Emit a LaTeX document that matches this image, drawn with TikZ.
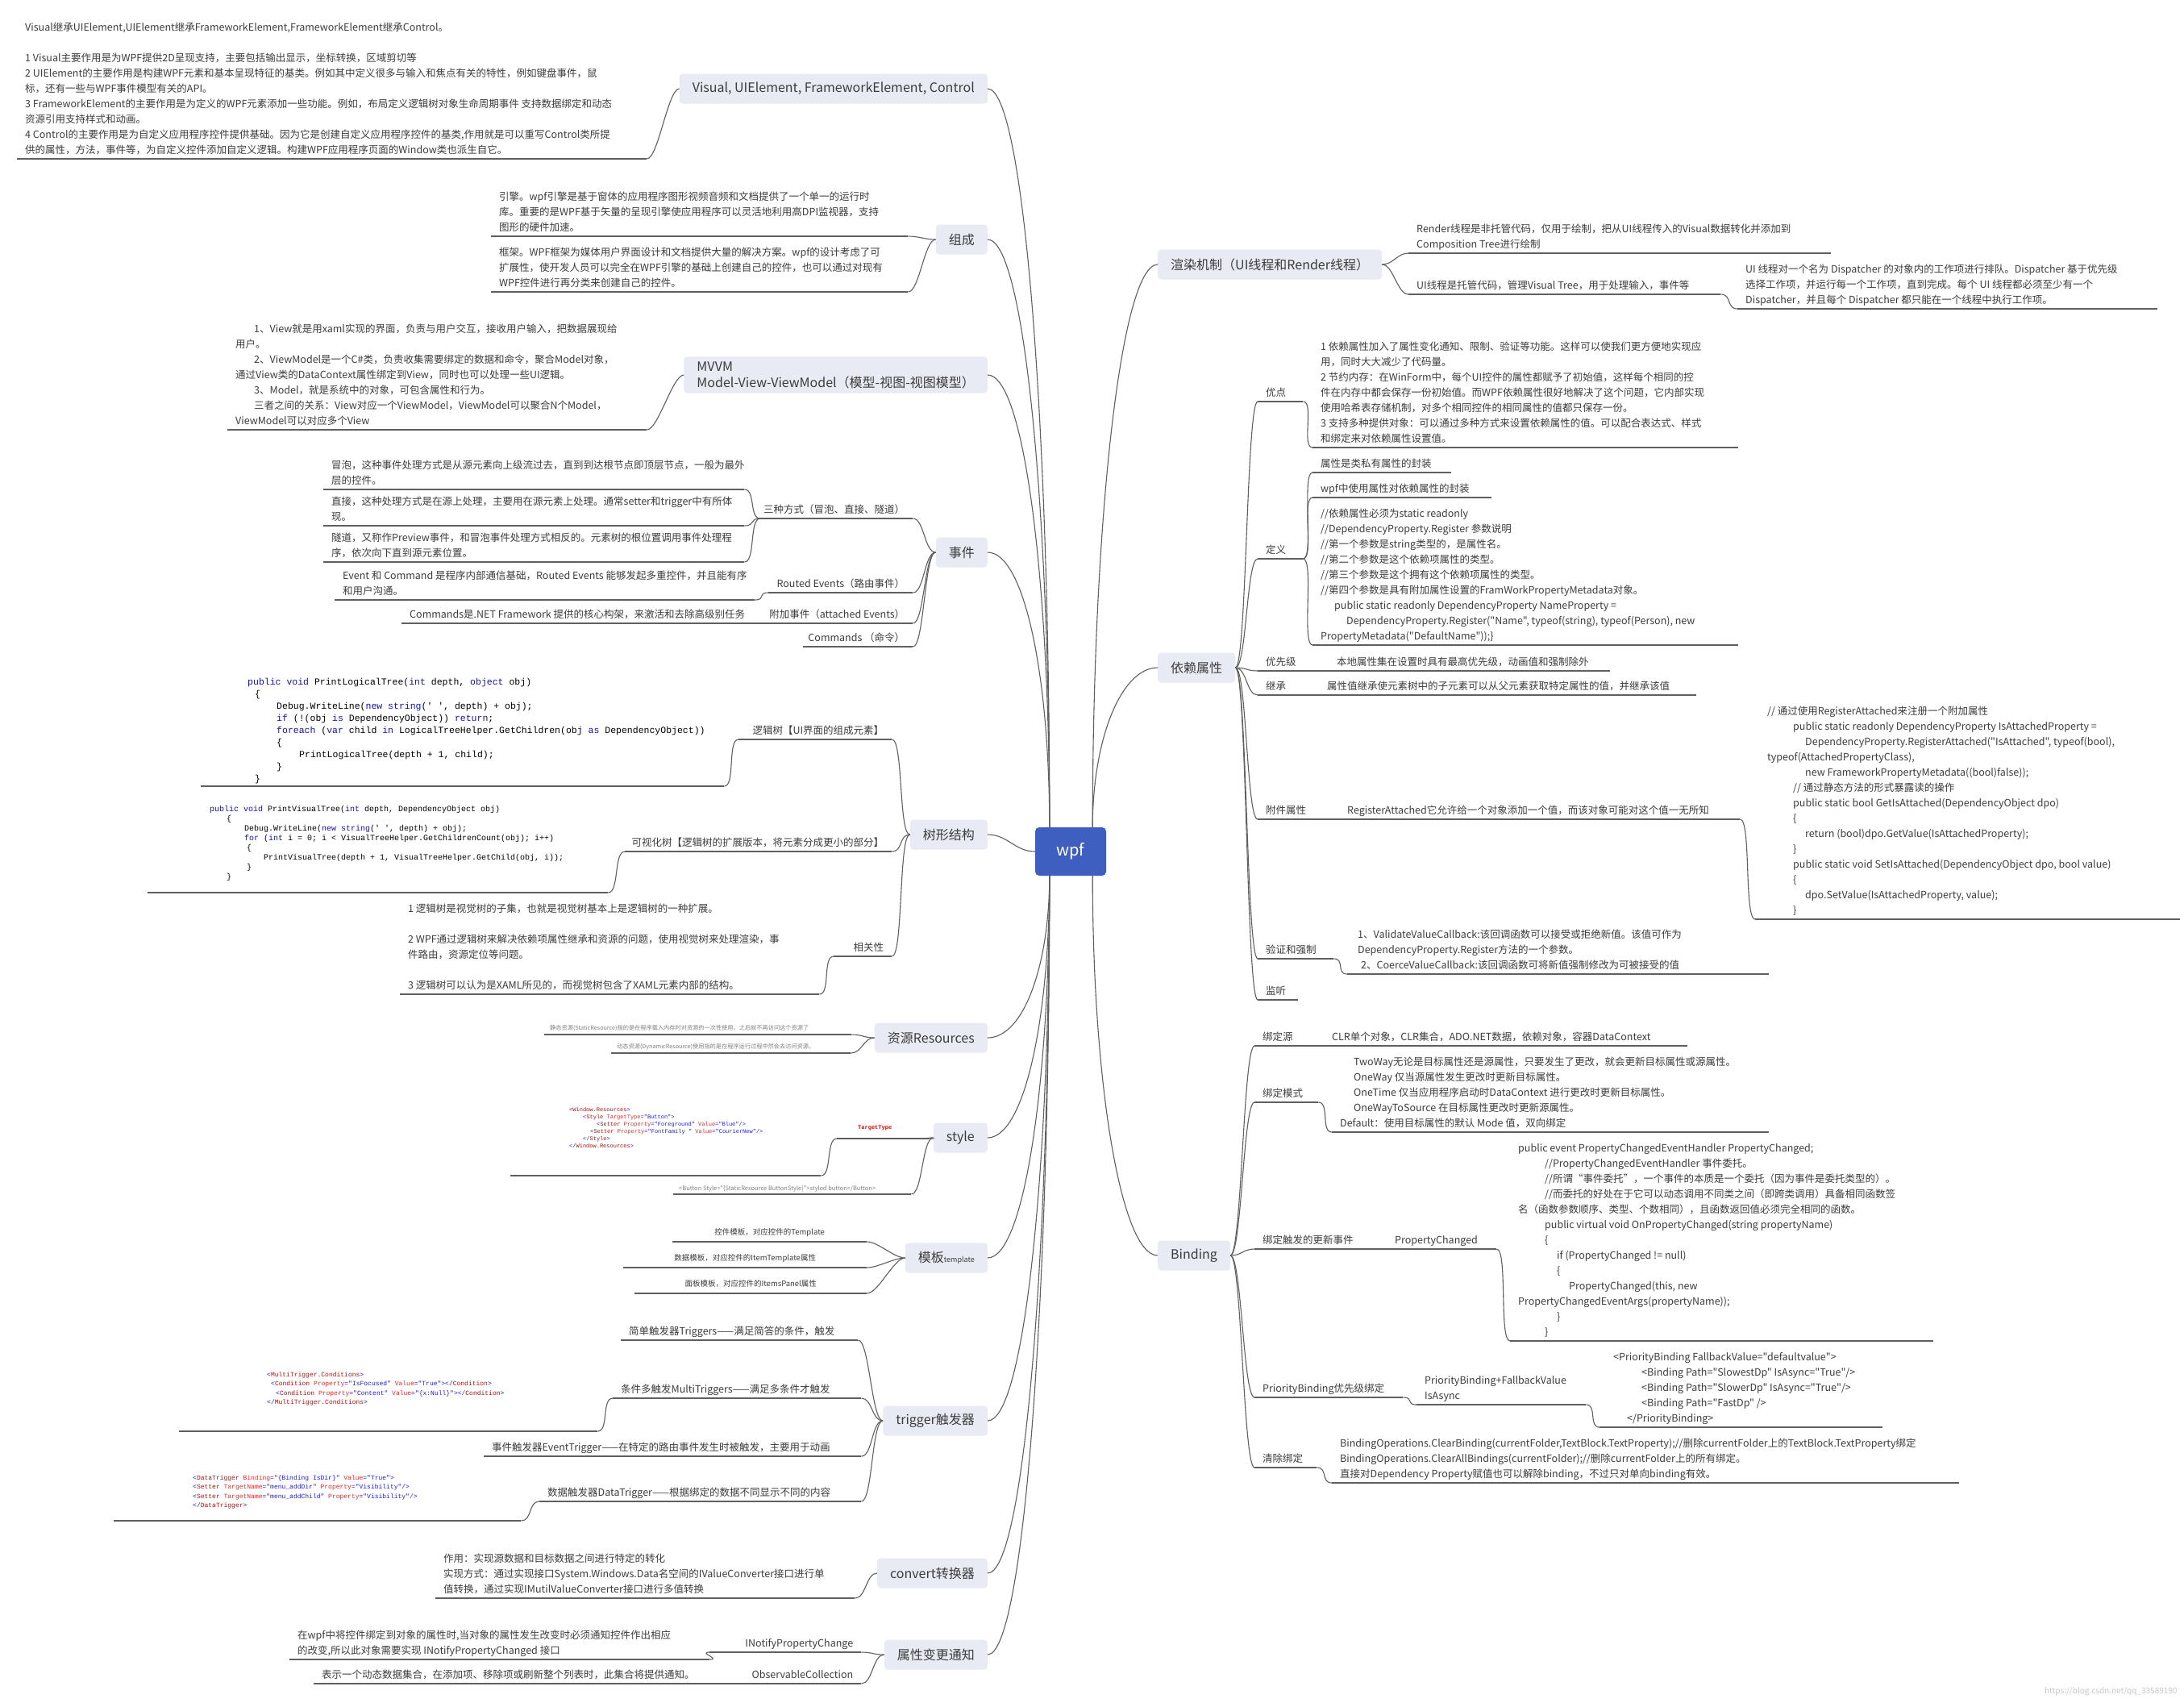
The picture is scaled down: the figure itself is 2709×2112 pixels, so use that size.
\documentclass[tikz,border=0pt]{standalone}
\usepackage{fontspec}
\setmainfont{Noto Sans CJK SC}[Ligatures=TeXOff]
\setmonofont{Liberation Mono}
\usepackage{tikz}

\definecolor{boxfill}{RGB}{233,235,244}
\definecolor{rootfill}{RGB}{62,94,192}
\definecolor{linecol}{RGB}{95,95,95}
\definecolor{txtcol}{RGB}{60,60,60}
\definecolor{kwcol}{RGB}{20,20,170}
\definecolor{tagcol}{RGB}{163,21,21}
\definecolor{attcol}{RGB}{225,40,40}
\definecolor{valcol}{RGB}{30,30,220}

\newcommand{\fs}{\fontsize{12.5}{19}\selectfont}
\newcommand{\lft}[2]{\makebox[#1pt][l]{\begin{tabular}{@{}l@{}}#2\end{tabular}}}
\newcommand{\rgt}[2]{\makebox[#1pt][r]{\begin{tabular}{@{}r@{}}#2\end{tabular}}}
\newcommand{\ctr}[2]{\makebox[#1pt][c]{\begin{tabular}{@{}c@{}}#2\end{tabular}}}
\newcommand{\ind}[1]{\hspace*{#1pt}}
\newcommand{\kw}[1]{\textcolor{kwcol}{#1}}
\newcommand{\xtag}[1]{\textcolor{tagcol}{#1}}
\newcommand{\xatt}[1]{\textcolor{attcol}{#1}}
\newcommand{\xval}[1]{\textcolor{valcol}{#1}}

\begin{document}
\begin{tikzpicture}[x=1pt, y=-1pt,
    lk/.style={draw=linecol, line width=1.1pt},
    lkl/.style={lk, to path={.. controls +(-14,0) and +(14,0) .. (\tikztotarget)}},
    lkr/.style={lk, to path={.. controls +(14,0) and +(-14,0) .. (\tikztotarget)}},
    rootbox/.style={rectangle, rounded corners=5pt, fill=rootfill, text=white, minimum width=88pt, minimum height=60pt, font=\fontsize{20}{24}\selectfont},
    topic/.style={rectangle, rounded corners=4pt, fill=boxfill, inner xsep=16pt, inner ysep=6pt, minimum height=37pt, text=txtcol, font=\fontsize{16}{20}\selectfont},
    topicl/.style={topic, anchor=east},
    topicr/.style={topic, anchor=west},
    leaf/.style={anchor=south west, inner xsep=10pt, inner ysep=1pt, text=txtcol, font=\fs,
      append after command={(\tikzlastnode.south west) edge[lk] (\tikzlastnode.south east)}},
    tiny/.style={leaf, inner xsep=7pt, inner ysep=3pt, text=gray, font=\fontsize{7.2}{9}\selectfont},
    code/.style={leaf, text=black}]

  \fill[white] (0,0) rectangle (2709,2112);
  \useasboundingbox (0,0) rectangle (2709,2112);

  % 中心
  \node[rootbox] (wpf) at (1328,1056) {wpf};
  \coordinate (wTL) at ([xshift=18pt]wpf.north west);
  \coordinate (wBL) at ([xshift=18pt]wpf.south west);
  \coordinate (wTR) at ([xshift=-17pt]wpf.north east);
  \coordinate (wBR) at ([xshift=-17pt]wpf.south east);

  % 左侧主题
  \node[topicl] (vis) at (1225,110) {Visual, UIElement, FrameworkElement, Control};
  \node[topicl] (zc) at (1225,297) {组成};
  \node[topicl, align=left] (mvvm) at (1225,465) {MVVM\\Model-View-ViewModel（模型-视图-视图模型）};
  \node[topicl] (sj) at (1225,685) {事件};
  \node[topicl] (shu) at (1225,1035) {树形结构};
  \node[topicl] (zy) at (1225,1287) {资源Resources};
  \node[topicl] (st) at (1225,1411) {style};
  \node[topicl] (mb) at (1225,1560) {模板{\fontsize{9}{9}\selectfont template}};
  \node[topicl] (tg) at (1225,1762) {trigger触发器};
  \node[topicl] (cv) at (1225,1951) {convert转换器};
  \node[topicl] (tz) at (1225,2052) {属性变更通知};

  % 右侧主题
  \node[topicr] (xr) at (1436,328) {渲染机制（UI线程和Render线程）};
  \node[topicr] (yl) at (1436,828) {依赖属性};
  \node[topicr] (bd) at (1436,1557) {Binding};

  % Visual / 组成 / MVVM
  \node[leaf] (vis1) at (21,197) {\lft{761}{Visual继承UIElement,UIElement继承FrameworkElement,FrameworkElement继承Control。\\ \\
    1 Visual主要作用是为WPF提供2D呈现支持，主要包括输出显示，坐标转换，区域剪切等\\
    2 UIElement的主要作用是构建WPF元素和基本呈现特征的基类。例如其中定义很多与输入和焦点有关的特性，例如键盘事件，鼠\\
    标，还有一些与WPF事件模型有关的API。\\
    3 FrameworkElement的主要作用是为定义的WPF元素添加一些功能。例如，布局定义逻辑树对象生命周期事件 支持数据绑定和动态\\
    资源引用支持样式和动画。\\
    4 Control的主要作用是为自定义应用程序控件提供基础。因为它是创建自定义应用程序控件的基类,作用就是可以重写Control类所提\\
    供的属性，方法，事件等，为自定义控件添加自定义逻辑。构建WPF应用程序页面的Window类也派生自它。}};
  \node[leaf] (zc1) at (609,293) {\lft{497}{引擎。wpf引擎是基于窗体的应用程序图形视频音频和文档提供了一个单一的运行时\\
    库。重要的是WPF基于矢量的呈现引擎使应用程序可以灵活地利用高DPI监视器，支持\\
    图形的硬件加速。}};
  \node[leaf] (zc2) at (609,362) {\lft{497}{框架。WPF框架为媒体用户界面设计和文档提供大量的解决方案。wpf的设计考虑了可\\
    扩展性，使开发人员可以完全在WPF引擎的基础上创建自己的控件，也可以通过对现有\\
    WPF控件进行再分类来创建自己的控件。}};
  \node[leaf] (mv1) at (282,533) {\lft{500}{\ind{23}1、View就是用xaml实现的界面，负责与用户交互，接收用户输入，把数据展现给\\
    用户。\\
    \ind{23}2、ViewModel是一个C\#类，负责收集需要绑定的数据和命令，聚合Model对象，\\
    通过View类的DataContext属性绑定到View，同时也可以处理一些UI逻辑。\\
    \ind{23}3、Model，就是系统中的对象，可包含属性和行为。\\
    \ind{23}三者之间的关系：View对应一个ViewModel，ViewModel可以聚合N个Model，\\
    ViewModel可以对应多个View}};

  % 事件
  \node[leaf] (sj1) at (943,643) {\rgt{169}{三种方式（冒泡、直接、隧道）}};
  \node[leaf] (sj1a) at (401,607) {\lft{502}{冒泡，这种事件处理方式是从源元素向上级流过去，直到到达根节点即顶层节点，一般为最外\\层的控件。}};
  \node[leaf] (sj1b) at (401,652) {\lft{502}{直接，这种处理方式是在源上处理，主要用在源元素上处理。通常setter和trigger中有所体\\现。}};
  \node[leaf] (sj1c) at (401,697) {\lft{502}{隧道，又称作Preview事件，和冒泡事件处理方式相反的。元素树的根位置调用事件处理程\\序，依次向下直到源元素位置。}};
  \node[leaf] (sj2) at (953,735) {\rgt{159}{Routed Events（路由事件）}};
  \node[leaf] (sj2a) at (415,744) {\lft{501}{Event 和 Command 是程序内部通信基础，Routed Events 能够发起多重控件，并且能有序\\和用户沟通。}};
  \node[leaf] (sj3) at (950,773) {\rgt{162}{附加事件（attached Events）}};
  \node[leaf] (sj3a) at (498,773) {\lft{432}{Commands是.NET Framework 提供的核心构架，来激活和去除高级别任务}};
  \node[leaf] (sj4) at (996,802) {\rgt{116}{Commands （命令）}};

  % 树形结构
  \node[leaf] (shu1) at (916,917) {\rgt{170}{逻辑树【UI界面的组成元素】}};
  \node[code, font=\fontsize{11.5}{15}\selectfont\ttfamily] (shu1a) at (249,975) {\lft{629}{\ind{48}\kw{public void} PrintLogicalTree(\kw{int} depth, \kw{object} obj)\\
    \ind{57}\{\\
    \ind{84}Debug.WriteLine(\kw{new string}(' ', depth) + obj);\\
    \ind{84}\kw{if} (!(obj \kw{is} DependencyObject)) \kw{return};\\
    \ind{84}\kw{foreach} (\kw{var} child \kw{in} LogicalTreeHelper.GetChildren(obj \kw{as} DependencyObject))\\
    \ind{84}\{\\
    \ind{112}PrintLogicalTree(depth + 1, child);\\
    \ind{84}\}\\
    \ind{57}\}}};
  \node[leaf] (shu2) at (775,1056) {\rgt{311}{可视化树【逻辑树的扩展版本，将元素分成更小的部分】}};
  \node[code, inner ysep=13pt, font=\fontsize{10}{12}\selectfont\ttfamily] (shu2a) at (183,1107) {\lft{551}{\ind{67}\kw{public void} PrintVisualTree(\kw{int} depth, DependencyObject obj)\\
    \ind{88}\{\\
    \ind{110}Debug.WriteLine(\kw{new string}(' ', depth) + obj);\\
    \ind{110}\kw{for} (\kw{int} i = 0; i < VisualTreeHelper.GetChildrenCount(obj); i++)\\
    \ind{113}\{\\
    \ind{134}PrintVisualTree(depth + 1, VisualTreeHelper.GetChild(obj, i));\\
    \ind{113}\}\\
    \ind{88}\}}};
  \node[leaf] (shu3) at (1034,1186) {\rgt{52}{相关性}};
  \node[leaf] (shu3a) at (496,1233) {\lft{500}{1 逻辑树是视觉树的子集，也就是视觉树基本上是逻辑树的一种扩展。\\ \\
    2 WPF通过逻辑树来解决依赖项属性继承和资源的问题，使用视觉树来处理渲染，事\\
    件路由，资源定位等问题。\\ \\
    3 逻辑树可以认为是XAML所见的，而视觉树包含了XAML元素内部的结构。}};

  % 资源 / style / 模板
  \node[tiny] (zy1) at (675,1283) {\lft{367}{静态资源(StaticResource)指的是在程序载入内存时对资源的一次性使用，之后就不再访问这个资源了}};
  \node[tiny] (zy2) at (758,1306) {\lft{283}{动态资源(DynamicResource)使用指的是在程序运行过程中然会去访问资源。}};
  \node[leaf, inner ysep=9pt, text=red!85!black, font=\fontsize{7}{9}\selectfont\ttfamily\bfseries] (st1) at (1038,1412) {\lft{94}{\ind{16}TargetType}};
  \node[code, inner ysep=32pt, text=valcol, font=\fontsize{7}{9}\selectfont\ttfamily] (st1a) at (633,1458) {\lft{365}{\ind{63}<\xtag{Window.Resources}>\\
    \ind{80}<\xtag{Style} \xatt{TargetType}=\xval{"Button"}>\\
    \ind{97}<\xtag{Setter} \xatt{Property}=\xval{"Foreground"} \xatt{Value}=\xval{"Blue"}/>\\
    \ind{89}<\xtag{Setter} \xatt{Property}=\xval{"FontFamily "} \xatt{Value}=\xval{"CourierNew"}/>\\
    \ind{80}</\xtag{Style}>\\
    \ind{63}</\xtag{Window.Resources}>}};
  \node[tiny, inner ysep=2pt, font=\fontsize{7.5}{9}\selectfont] (st2) at (835,1481) {\lft{281}{<Button Style="\{StaticResource ButtonStyle\}">styled button</Button>}};
  \node[leaf, inner ysep=5pt, font=\fontsize{9.5}{12}\selectfont] (mb1) at (834,1540) {\ctr{221}{控件模板，对应控件的Template}};
  \node[leaf, inner ysep=5pt, font=\fontsize{9.5}{12}\selectfont] (mb2) at (773,1572) {\ctr{282}{数据模板，对应控件的ItemTemplate属性}};
  \node[leaf, inner ysep=5pt, font=\fontsize{9.5}{12}\selectfont] (mb3) at (787,1604) {\ctr{268}{面板模板，对应控件的ItemsPanel属性}};

  % trigger
  \node[leaf] (tg1) at (770,1662) {\lft{274}{简单触发器Triggers——满足简答的条件，触发}};
  \node[leaf] (tg2) at (760,1734) {\lft{288}{条件多触发MultiTriggers——满足多条件才触发}};
  \node[code, inner ysep=30pt, text=valcol, font=\fontsize{8}{11.3}\selectfont\ttfamily] (tg2a) at (222,1775) {\lft{499}{\ind{99}<\xtag{MultiTrigger.Conditions}>\\
    \ind{104}<\xtag{Condition} \xatt{Property}=\xval{"IsFocused"} \xatt{Value}=\xval{"True"}></\xtag{Condition}>\\
    \ind{110}<\xtag{Condition} \xatt{Property}=\xval{"Content"} \xatt{Value}=\xval{"\{x:Null\}"}></\xtag{Condition}>\\
    \ind{99}</\xtag{MultiTrigger.Conditions}>}};
  \node[leaf] (tg3) at (600,1806) {\lft{448}{事件触发器EventTrigger——在特定的路由事件发生时被触发，主要用于动画}};
  \node[leaf] (tg4) at (669,1862) {\lft{379}{数据触发器DataTrigger——根据绑定的数据不同显示不同的内容}};
  \node[code, inner ysep=13pt, text=valcol, font=\fontsize{8}{11.3}\selectfont\ttfamily] (tg4a) at (141,1886) {\lft{485}{\ind{88}<\xtag{DataTrigger} \xatt{Binding}=\xval{"\{Binding IsDir\}"} \xatt{Value}=\xval{"True"}>\\
    \ind{88}<\xtag{Setter} \xatt{TargetName}=\xval{"menu\_addDir"} \xatt{Property}=\xval{"Visibility"}/>\\
    \ind{88}<\xtag{Setter} \xatt{TargetName}=\xval{"menu\_addChild"} \xatt{Property}=\xval{"Visibility"}/>\\
    \ind{88}</\xtag{DataTrigger}>}};

  % convert / 属性变更通知
  \node[leaf] (cv1) at (540,1982) {\lft{500}{作用：实现源数据和目标数据之间进行特定的转化\\
    实现方式：通过实现接口System.Windows.Data名空间的IValueConverter接口进行单\\
    值转换，通过实现IMutilValueConverter接口进行多值转换}};
  \node[leaf] (tz1) at (880,2049) {\rgt{168}{INotifyPropertyChange}};
  \node[leaf] (tz1a) at (359,2058) {\lft{501}{在wpf中将控件绑定到对象的属性时,当对象的属性发生改变时必须通知控件作出相应\\
    的改变,所以此对象需要实现 INotifyPropertyChanged 接口}};
  \node[leaf] (tz2) at (910,2088) {\rgt{138}{ObservableCollection}};
  \node[leaf] (tz2a) at (389,2088) {\lft{501}{表示一个动态数据集合，在添加项、移除项或刷新整个列表时，此集合将提供通知。}};

  % 渲染机制
  \node[leaf] (xr1) at (1747,314) {\lft{504}{Render线程是非托管代码，仅用于绘制，把从UI线程传入的Visual数据转化并添加到\\
    Composition Tree进行绘制}};
  \node[leaf] (xr2) at (1747,365) {\lft{367}{UI线程是托管代码，管理Visual Tree，用于处理输入，事件等}};
  \node[leaf] (xr2a) at (2155,383) {\lft{501}{UI 线程对一个名为 Dispatcher 的对象内的工作项进行排队。Dispatcher 基于优先级\\
    选择工作项，并运行每一个工作项，直到完成。每个 UI 线程都必须至少有一个\\
    Dispatcher，并且每个 Dispatcher 都只能在一个线程中执行工作项。}};

  % 依赖属性
  \node[leaf] (yl1) at (1560,498) {\lft{36}{优点}};
  \node[leaf] (yl1a) at (1628,555) {\lft{508}{1 依赖属性加入了属性变化通知、限制、验证等功能。这样可以使我们更方便地实现应\\
    用，同时大大减少了代码量。\\
    2 节约内存：在WinForm中，每个UI控件的属性都赋予了初始值，这样每个相同的控\\
    件在内存中都会保存一份初始值。而WPF依赖属性很好地解决了这个问题，它内部实现\\
    使用哈希表存储机制，对多个相同控件的相同属性的值都只保存一份。\\
    3 支持多种提供对象：可以通过多种方式来设置依赖属性的值。可以配合表达式、样式\\
    和绑定来对依赖属性设置值。}};
  \node[leaf] (yl2) at (1560,693) {\lft{36}{定义}};
  \node[leaf] (yl2a) at (1628,586) {\lft{152}{属性是类私有属性的封装}};
  \node[leaf] (yl2b) at (1628,617) {\lft{202}{wpf中使用属性对依赖属性的封装}};
  \node[leaf] (yl2c) at (1628,800) {\lft{508}{//依赖属性必须为static readonly\\
    //DependencyProperty.Register 参数说明\\
    //第一个参数是string类型的，是属性名。\\
    //第二个参数是这个依赖项属性的类型。\\
    //第三个参数是这个拥有这个依赖项属性的类型。\\
    //第四个参数是具有附加属性设置的FramWorkPropertyMetadata对象。\\
    \ind{17}public static readonly DependencyProperty NameProperty =\\
    \ind{32}DependencyProperty.Register("Name", typeof(string), typeof(Person), new\\
    PropertyMetadata("DefaultName"));\}}};
  \node[leaf] (yl3) at (1560,832) {\lft{60}{优先级}};
  \node[leaf] (yl3a) at (1640,832) {\lft{337}{\ind{8}本地属性集在设置时具有最高优先级，动画值和强制除外}};
  \node[leaf] (yl4) at (1560,862) {\lft{50}{继承}};
  \node[leaf] (yl4a) at (1630,862) {\lft{454}{\ind{6}属性值继承使元素树中的子元素可以从父元素获取特定属性的值，并继承该值}};
  \node[leaf] (yl5) at (1560,1016) {\lft{75}{附件属性}};
  \node[leaf] (yl5a) at (1655,1016) {\lft{483}{\ind{6}RegisterAttached它允许给一个对象添加一个值，而该对象可能对这个值一无所知}};
  \node[leaf] (yl5b) at (2177,1140) {\lft{507}{\ind{5}// 通过使用RegisterAttached来注册一个附加属性\\
    \ind{37}public static readonly DependencyProperty IsAttachedProperty =\\
    \ind{52}DependencyProperty.RegisterAttached("IsAttached", typeof(bool),\\
    \ind{5}typeof(AttachedPropertyClass),\\
    \ind{52}new FrameworkPropertyMetadata((bool)false));\\
    \ind{37}// 通过静态方法的形式暴露读的操作\\
    \ind{37}public static bool GetIsAttached(DependencyObject dpo)\\
    \ind{37}\{\\
    \ind{52}return (bool)dpo.GetValue(IsAttachedProperty);\\
    \ind{37}\}\\
    \ind{37}public static void SetIsAttached(DependencyObject dpo, bool value)\\
    \ind{37}\{\\
    \ind{52}dpo.SetValue(IsAttachedProperty, value);\\
    \ind{37}\}}};
  \node[leaf] (yl6) at (1560,1189) {\lft{74}{验证和强制}};
  \node[leaf] (yl6a) at (1671,1208) {\lft{503}{\ind{3}1、ValidateValueCallback:该回调函数可以接受或拒绝新值。该值可作为\\
    \ind{3}DependencyProperty.Register方法的一个参数。\\
    \ind{7}2、CoerceValueCallback:该回调函数可将新值强制修改为可被接受的值}};
  \node[leaf] (yl7) at (1560,1240) {\lft{30}{监听}};

  % Binding
  \node[leaf] (bd1) at (1556,1297) {\lft{64}{绑定源}};
  \node[leaf] (bd1a) at (1640,1297) {\lft{433}{\ind{2}CLR单个对象，CLR集合，ADO.NET数据，依赖对象，容器DataContext}};
  \node[leaf] (bd2) at (1556,1367) {\lft{59}{绑定模式}};
  \node[leaf] (bd2a) at (1652,1404) {\lft{522}{\ind{17}TwoWay无论是目标属性还是源属性，只要发生了更改，就会更新目标属性或源属性。\\
    \ind{17}OneWay 仅当源属性发生更改时更新目标属性。\\
    \ind{17}OneTime 仅当应用程序启动时DataContext 进行更改时更新目标属性。\\
    \ind{17}OneWayToSource 在目标属性更改时更新源属性。\\
    Default：使用目标属性的默认 Mode 值，双向绑定}};
  \node[leaf] (bd3) at (1556,1549) {\lft{144}{绑定触发的更新事件}};
  \node[leaf] (bd3a) at (1720,1549) {\lft{116}{PropertyChanged}};
  \node[leaf] (bd3b) at (1873,1663) {\lft{505}{public event PropertyChangedEventHandler PropertyChanged;\\
    \ind{33}//PropertyChangedEventHandler 事件委托。\\
    \ind{33}//所谓“事件委托”，一个事件的本质是一个委托（因为事件是委托类型的）。\\
    \ind{33}//而委托的好处在于它可以动态调用不同类之间（即跨类调用）具备相同函数签\\
    名（函数参数顺序、类型、个数相同），且函数返回值必须完全相同的函数。\\
    \ind{33}public virtual void OnPropertyChanged(string propertyName)\\
    \ind{33}\{\\
    \ind{48}if (PropertyChanged != null)\\
    \ind{48}\{\\
    \ind{63}PropertyChanged(this, new\\
    PropertyChangedEventArgs(propertyName));\\
    \ind{48}\}\\
    \ind{33}\}}};
  \node[leaf] (bd4) at (1556,1733) {\lft{164}{PriorityBinding优先级绑定}};
  \node[leaf] (bd4a) at (1757,1742) {\lft{190}{PriorityBinding+FallbackValue\\IsAsync}};
  \node[leaf] (bd4b) at (1984,1770) {\lft{331}{\ind{7}<PriorityBinding FallbackValue="defaultvalue">\\
    \ind{42}<Binding Path="SlowestDp" IsAsync="True"/>\\
    \ind{42}<Binding Path="SlowerDp" IsAsync="True"/>\\
    \ind{42}<Binding Path="FastDp" />\\
    \ind{24}</PriorityBinding>}};
  \node[leaf] (bd5) at (1556,1820) {\lft{57}{清除绑定}};
  \node[leaf] (bd5a) at (1652,1839) {\lft{758}{BindingOperations.ClearBinding(currentFolder,TextBlock.TextProperty);//删除currentFolder上的TextBlock.TextProperty绑定\\
    BindingOperations.ClearAllBindings(currentFolder);//删除currentFolder上的所有绑定。\\
    直接对Dependency Property赋值也可以解除binding，不过只对单向binding有效。}};

  \node[anchor=east, text=gray!45, font=\fontsize{10}{12}\selectfont] (wm) at (2704,2098) {https://blog.csdn.net/qq\_33589190};

  % 中心连线
  \draw[lk] (wTL) .. controls +(0,-500) and +(45,0) .. (vis.east);
  \draw[lk] (wTL) .. controls +(0,-400) and +(45,0) .. (zc.east);
  \draw[lk] (wTL) .. controls +(0,-310) and +(45,0) .. (mvvm.east);
  \draw[lk] (wTL) .. controls +(0,-190) and +(45,0) .. (sj.east);
  \draw[lk] (wpf.west) .. controls +(-25,0) and +(25,0) .. (shu.east);
  \draw[lk] (wBL) .. controls +(0,110) and +(45,0) .. (zy.east);
  \draw[lk] (wBL) .. controls +(0,180) and +(45,0) .. (st.east);
  \draw[lk] (wBL) .. controls +(0,260) and +(45,0) .. (mb.east);
  \draw[lk] (wBL) .. controls +(0,370) and +(45,0) .. (tg.east);
  \draw[lk] (wBL) .. controls +(0,475) and +(45,0) .. (cv.east);
  \draw[lk] (wBL) .. controls +(0,530) and +(45,0) .. (tz.east);
  \draw[lk] (wTR) .. controls +(0,-385) and +(-45,0) .. (xr.west);
  \draw[lk] (wTR) .. controls +(0,-110) and +(-45,0) .. (yl.west);
  \draw[lk] (wBR) .. controls +(0,260) and +(-45,0) .. (bd.west);

  % 左侧连线
  \draw[lkl] (vis.west) to (vis1.south east);
  \draw[lkl] (zc.west) to (zc1.south east);
  \draw[lkl] (zc.west) to (zc2.south east);
  \draw[lkl] (mvvm.west) to (mv1.south east);
  \draw[lkl] (sj.west) to (sj1.south east);
  \draw[lkl] (sj.west) to (sj2.south east);
  \draw[lkl] (sj.west) to (sj3.south east);
  \draw[lkl] (sj.west) to (sj4.south east);
  \draw[lkl] (sj1.south west) to (sj1a.south east);
  \draw[lkl] (sj1.south west) to (sj1b.south east);
  \draw[lkl] (sj1.south west) to (sj1c.south east);
  \draw[lkl] (sj2.south west) to (sj2a.south east);
  \draw[lkl] (sj3.south west) to (sj3a.south east);
  \draw[lkl] (shu.west) to (shu1.south east);
  \draw[lkl] (shu.west) to (shu2.south east);
  \draw[lkl] (shu.west) to (shu3.south east);
  \draw[lkl] (shu1.south west) to (shu1a.south east);
  \draw[lkl] (shu2.south west) to (shu2a.south east);
  \draw[lkl] (shu3.south west) to (shu3a.south east);
  \draw[lkl] (zy.west) to (zy1.south east);
  \draw[lkl] (zy.west) to (zy2.south east);
  \draw[lkl] (st.west) to (st1.south east);
  \draw[lkl] (st.west) to (st2.south east);
  \draw[lkl] (st1.south west) to (st1a.south east);
  \draw[lkl] (mb.west) to (mb1.south east);
  \draw[lkl] (mb.west) to (mb2.south east);
  \draw[lkl] (mb.west) to (mb3.south east);
  \draw[lkl] (tg.west) to (tg1.south east);
  \draw[lkl] (tg.west) to (tg2.south east);
  \draw[lkl] (tg.west) to (tg3.south east);
  \draw[lkl] (tg.west) to (tg4.south east);
  \draw[lkl] (tg2.south west) to (tg2a.south east);
  \draw[lkl] (tg4.south west) to (tg4a.south east);
  \draw[lkl] (cv.west) to (cv1.south east);
  \draw[lkl] (tz.west) to (tz1.south east);
  \draw[lkl] (tz.west) to (tz2.south east);
  \draw[lkl] (tz1.south west) to (tz1a.south east);
  \draw[lkl] (tz2.south west) to (tz2a.south east);

  % 右侧连线
  \draw[lkr] (xr.east) to (xr1.south west);
  \draw[lkr] (xr.east) to (xr2.south west);
  \draw[lkr] (xr2.south east) to (xr2a.south west);
  \draw[lkr] (yl.east) to (yl1.south west);
  \draw[lkr] (yl.east) to (yl2.south west);
  \draw[lkr] (yl.east) to (yl3.south west);
  \draw[lkr] (yl.east) to (yl4.south west);
  \draw[lkr] (yl.east) to (yl5.south west);
  \draw[lkr] (yl.east) to (yl6.south west);
  \draw[lkr] (yl.east) to (yl7.south west);
  \draw[lkr] (yl1.south east) to (yl1a.south west);
  \draw[lkr] (yl2.south east) to (yl2a.south west);
  \draw[lkr] (yl2.south east) to (yl2b.south west);
  \draw[lkr] (yl2.south east) to (yl2c.south west);
  \draw[lkr] (yl3.south east) to (yl3a.south west);
  \draw[lkr] (yl4.south east) to (yl4a.south west);
  \draw[lkr] (yl5.south east) to (yl5a.south west);
  \draw[lkr] (yl5a.south east) to (yl5b.south west);
  \draw[lkr] (yl6.south east) to (yl6a.south west);
  \draw[lkr] (bd.east) to (bd1.south west);
  \draw[lkr] (bd.east) to (bd2.south west);
  \draw[lkr] (bd.east) to (bd3.south west);
  \draw[lkr] (bd.east) to (bd4.south west);
  \draw[lkr] (bd.east) to (bd5.south west);
  \draw[lkr] (bd1.south east) to (bd1a.south west);
  \draw[lkr] (bd2.south east) to (bd2a.south west);
  \draw[lkr] (bd3.south east) to (bd3a.south west);
  \draw[lkr] (bd3a.south east) to (bd3b.south west);
  \draw[lkr] (bd4.south east) to (bd4a.south west);
  \draw[lkr] (bd4a.south east) to (bd4b.south west);
  \draw[lkr] (bd5.south east) to (bd5a.south west);
\end{tikzpicture}
\end{document}
